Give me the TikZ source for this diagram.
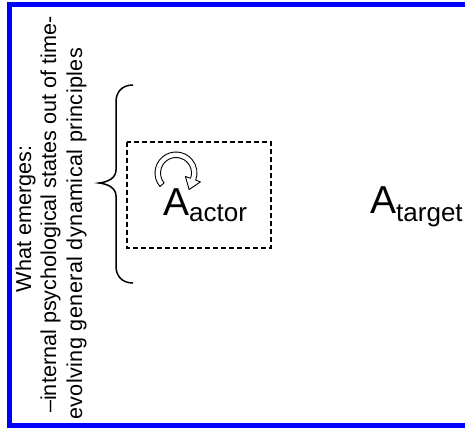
\documentclass[tikz,border=0pt]{standalone}
\usepackage{fontspec}
\setmainfont{Liberation Sans}
\usepackage{tikz}
\usetikzlibrary{positioning,calc}

\begin{document}
\begin{tikzpicture}[x=1pt, y=-1pt,
		frame/.style={draw=blue, line width=5pt},
		caption/.style={rotate=90, inner sep=0pt, font=\fontsize{21.6}{26}\selectfont},
		selfbox/.style={draw, dashed, dash pattern=on 5pt off 3pt, line width=1.1pt},
		brace/.style={draw, line width=1.5pt},
		loopy/.style={draw, fill=white, line width=0.9pt, line join=round},
		agent/.style={inner sep=0pt, anchor=base west}]
	\useasboundingbox (0,0) rectangle (465,428);
	%\draw[help lines, step=20] (0,0) grid (465,428);
	\draw[frame] (9.5,4.3) rectangle (475,425);

	% rotated caption
	\node[caption, anchor=base] (emerge) at (31,219) {What emerges:};
	\node[caption, anchor=base west] (internal) at (56,413) {--internal psychological states out of time-};
	\node[caption, anchor=base west] (evolving) at (82,420)
		{\addfontfeature{LetterSpace=2}evolving general dynamical principles};

	% curly brace
	\draw[brace] (133,85) .. controls (122,85) and (116,92) .. (116,102) -- (116,170)
		.. controls (116,178) and (108,182) .. (99,183)
		.. controls (108,184) and (116,188) .. (116,196) -- (116,266)
		.. controls (116,276) and (122,283) .. (133,283);

	% actor inside the dashed box
	\draw[selfbox] (127,142) rectangle (271,248);
	\node[agent] (actor) at (163,215)
		{{\fontsize{39}{39}\selectfont A}\raisebox{-6pt}{\fontsize{26}{26}\selectfont actor}};
	\node[agent] (target) at (370,213)
		{{\fontsize{39}{39}\selectfont A}\raisebox{-8pt}{\fontsize{26}{26}\selectfont target}};

	% hollow circular arrow
	\coordinate (loop) at (176,173);
	\draw[loopy] (loop) ++(140:21) arc[start angle=140, end angle=380, radius=21]
		-- ($(loop)+(20:26)$) -- ($(loop)+(13.1,16.5)$) -- ($(loop)+(20:10)$)
		-- ($(loop)+(20:15.5)$) arc[start angle=380, end angle=140, radius=15.5] -- cycle;
\end{tikzpicture}
\end{document}
